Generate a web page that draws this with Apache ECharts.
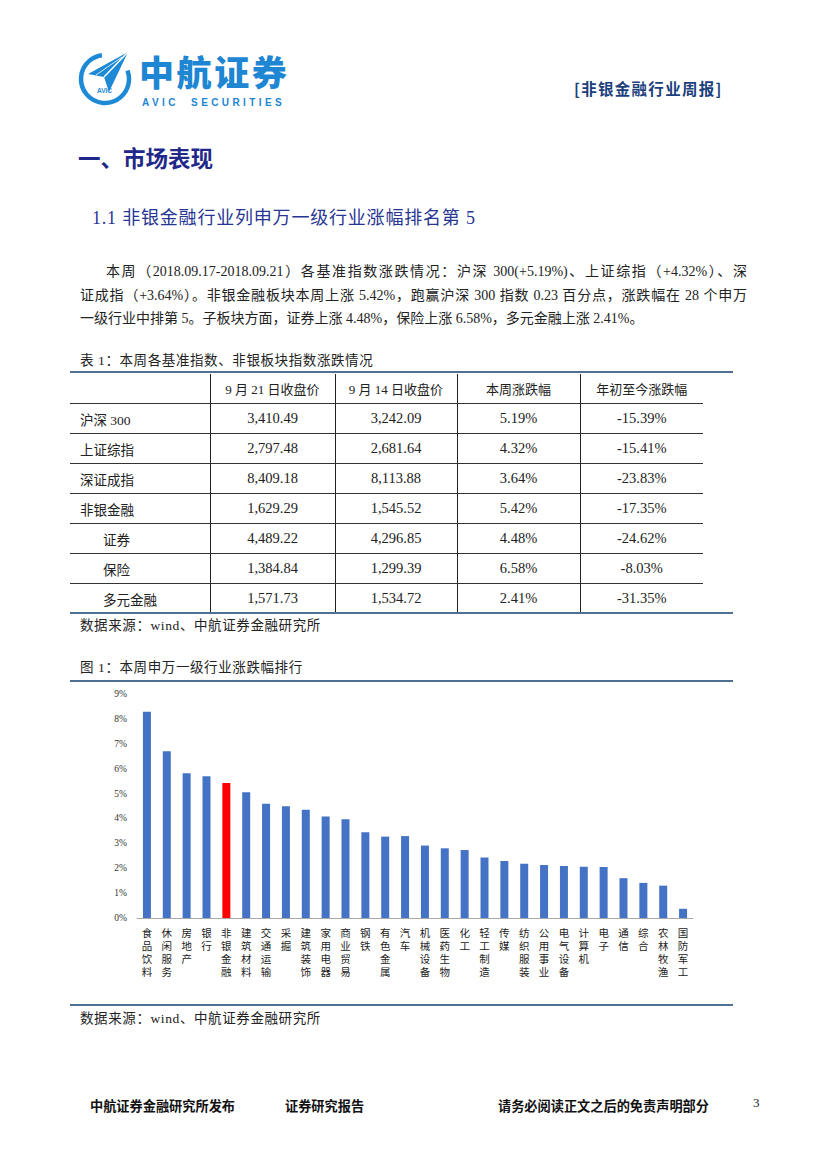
<!DOCTYPE html>
<html>
<head>
<meta charset="utf-8">
<script src="https://cdn.jsdelivr.net/npm/echarts@6/dist/echarts.min.js"></script>
<style>
  html, body { margin:0; padding:0; background:#fff; }
  body { width:827px; height:1169px; position:relative; overflow:hidden;
         font-family:"Liberation Serif","Noto Sans CJK SC",serif; color:#222; }
  .abs { position:absolute; white-space:nowrap; }
  .rule { position:absolute; left:70px; width:663px; height:2px; background:#4f6f95; }
  .para { position:absolute; left:80px; width:667px; font-size:14px; line-height:23.5px; }
  .para span { display:block; text-align:justify; text-align-last:justify; }
  .para span.last { text-align-last:left; }
  table { position:absolute; left:70px; top:374px; width:633px; border-collapse:collapse; table-layout:fixed; }
  td { height:29px; padding:0; border-bottom:1px solid #333; border-left:1px solid #222;
       text-align:center; font-size:14.5px; font-family:"Liberation Serif","Noto Sans CJK SC"; }
  td:first-child { border-left:none; text-align:left; padding-left:10px; font-size:13.5px; font-family:"Liberation Serif","Noto Sans CJK SC"; }
  td.sub { padding-left:33px; }
  tr.hd td { font-size:13px; font-family:"Liberation Serif","Noto Sans CJK SC"; }
  tr:last-child td { border-bottom:none; }
  .cap { font-size:13.5px; letter-spacing:0.6px; font-family:"Liberation Serif","Noto Sans CJK SC"; }
  .foot { font-size:13.2px; font-family:"Noto Sans CJK SC"; font-weight:700; color:#111; }
</style>
</head>
<body>
<!-- header logo -->
<svg class="abs" style="left:76px;top:48px" width="60" height="60" viewBox="0 0 60 60">
  <circle cx="29" cy="31" r="24" fill="none" stroke="#1e8ad6" stroke-width="4.5"
          stroke-dasharray="118 33" stroke-dashoffset="-8" transform="rotate(-40 29 31)"/>
  <polygon points="52,4 12,26 28,29 33,44" fill="#1e8ad6"/>
  <polyline points="52,4 28,29" stroke="#fff" stroke-width="1.4" fill="none"/>
  <polyline points="46,9 20,27" stroke="#fff" stroke-width="0.8" fill="none"/>
  <text x="21" y="45" font-size="6.5" font-weight="700" fill="#1e8ad6" font-family="Liberation Sans">AVIC</text>
</svg>
<div class="abs" style="left:139px;top:53px;font-size:35px;line-height:35px;font-weight:900;color:#1e86d2;font-family:'Noto Sans CJK SC';letter-spacing:2.6px">中航证券</div>
<div class="abs" style="left:142px;top:96.5px;font-size:10px;line-height:11px;font-weight:700;color:#1e86d2;font-family:'Liberation Sans';letter-spacing:3.4px">AVIC&nbsp;&nbsp;SECURITIES</div>
<div class="abs" style="left:574px;top:79px;font-size:15.5px;line-height:18px;font-weight:700;color:#1c3f7c;font-family:'Noto Sans CJK SC';letter-spacing:1.3px">[非银金融行业周报]</div>

<!-- titles -->
<div class="abs" style="left:78px;top:143px;font-size:22.5px;line-height:28px;font-weight:700;color:#22288a;font-family:'Noto Sans CJK SC'">一、市场表现</div>
<div class="abs" style="left:92px;top:206px;font-size:18px;line-height:24px;color:#283593;letter-spacing:0.8px;font-family:'Liberation Serif','Noto Sans CJK SC'">1.1 非银金融行业列申万一级行业涨幅排名第 5</div>

<div class="para" style="top:260px">
  <span style="padding-left:26px">本周（2018.09.17-2018.09.21）各基准指数涨跌情况：沪深 300(+5.19%)、上证综指（+4.32%）、深</span>
  <span>证成指（+3.64%）。非银金融板块本周上涨 5.42%，跑赢沪深 300 指数 0.23 百分点，涨跌幅在 28 个申万</span>
  <span class="last">一级行业中排第 5。子板块方面，证券上涨 4.48%，保险上涨 6.58%，多元金融上涨 2.41%。</span>
</div>

<!-- table -->
<div class="abs cap" style="left:80px;top:352px;line-height:18px">表 1：本周各基准指数、非银板块指数涨跌情况</div>
<div class="rule" style="top:371px"></div>
<table id="tbl">
  <colgroup><col style="width:140px"><col style="width:125px"><col style="width:122px"><col style="width:123px"><col style="width:123px"></colgroup>
</table>
<div class="rule" style="top:612px"></div>
<div class="abs cap" style="left:80px;top:617px;line-height:18px">数据来源：wind、中航证券金融研究所</div>

<!-- figure -->
<div class="abs cap" style="left:80px;top:659px;line-height:18px">图 1：本周申万一级行业涨跌幅排行</div>
<div class="rule" style="top:680px"></div>
<div id="chart" class="abs" style="left:70px;top:682px;width:663px;height:322px"></div>
<div class="rule" style="top:1004px"></div>
<div class="abs cap" style="left:80px;top:1010px;line-height:18px">数据来源：wind、中航证券金融研究所</div>

<!-- footer -->
<div class="abs foot" style="left:90px;top:1098px;line-height:16px">中航证券金融研究所发布</div>
<div class="abs foot" style="left:285px;top:1098px;line-height:16px">证券研究报告</div>
<div class="abs foot" style="left:498px;top:1098px;line-height:16px">请务必阅读正文之后的免责声明部分</div>
<div class="abs" style="left:753px;top:1095px;font-size:13px;line-height:16px">3</div>

<script>
// ---- table data ----
const tableHeader = ['', '9 月 21 日收盘价', '9 月 14 日收盘价', '本周涨跌幅', '年初至今涨跌幅'];
const tableNames = ['沪深 300', '上证综指', '深证成指', '非银金融', '证券', '保险', '多元金融'];
const tableSub = [false, false, false, false, true, true, true];
const closeSep21 = ['3,410.49', '2,797.48', '8,409.18', '1,629.29', '4,489.22', '1,384.84', '1,571.73'];
const closeSep14 = ['3,242.09', '2,681.64', '8,113.88', '1,545.52', '4,296.85', '1,299.39', '1,534.72'];
const weekChange = ['5.19%', '4.32%', '3.64%', '5.42%', '4.48%', '6.58%', '2.41%'];
const ytdChange = ['-15.39%', '-15.41%', '-23.83%', '-17.35%', '-24.62%', '-8.03%', '-31.35%'];

// ---- chart data ----
const categories = ['食品饮料','休闲服务','房地产','银行','非银金融','建筑材料','交通运输','采掘','建筑装饰','家用电器',
  '商业贸易','钢铁','有色金属','汽车','机械设备','医药生物','化工','轻工制造','传媒','纺织服装',
  '公用事业','电气设备','计算机','电子','通信','综合','农林牧渔','国防军工'];
const weeklyReturn = [8.29, 6.70, 5.82, 5.70, 5.42, 5.05, 4.59, 4.49, 4.35, 4.08,
  3.97, 3.45, 3.27, 3.29, 2.91, 2.80, 2.73, 2.43, 2.29, 2.18,
  2.13, 2.09, 2.06, 2.05, 1.60, 1.41, 1.30, 0.37];
const highlightName = '非银金融';
const yMin = 0, yMax = 9, yStep = 1;

// build table
const tbl = document.getElementById('tbl');
let html = '<tr class="hd">' + tableHeader.map(h => '<td>' + h + '</td>').join('') + '</tr>';
tableNames.forEach((n, i) => {
  html += '<tr><td class="' + (tableSub[i] ? 'sub' : '') + '">' + n + '</td><td>' + closeSep21[i] +
    '</td><td>' + closeSep14[i] + '</td><td>' + weekChange[i] + '</td><td>' + ytdChange[i] + '</td></tr>';
});
tbl.insertAdjacentHTML('beforeend', html);

// chart
const chart = echarts.init(document.getElementById('chart'), null, { renderer: 'svg' });
chart.setOption({
  animation: false,
  grid: { left: 67, right: 40, top: 12, bottom: 86 },
  xAxis: {
    type: 'category',
    data: categories,
    axisTick: { show: false },
    axisLine: { lineStyle: { color: '#a9a9a9', width: 1 } },
    axisLabel: {
      interval: 0, margin: 8, fontSize: 10.5, lineHeight: 13, color: '#222',
      fontFamily: 'Noto Sans CJK SC',
      formatter: s => s.split('').join('\n')
    }
  },
  yAxis: {
    type: 'value', min: yMin, max: yMax, interval: yStep,
    axisLine: { show: false }, axisTick: { show: false }, splitLine: { show: false },
    axisLabel: { formatter: '{value}%', fontSize: 9.5, color: '#333', margin: 10, fontFamily: 'Liberation Serif' }
  },
  series: [{
    type: 'bar',
    barWidth: 8,
    data: weeklyReturn.map((v, i) => ({
      value: v,
      itemStyle: { color: categories[i] === highlightName ? '#ff0000' : '#4472c4' }
    }))
  }]
});
</script>
</body>
</html>
